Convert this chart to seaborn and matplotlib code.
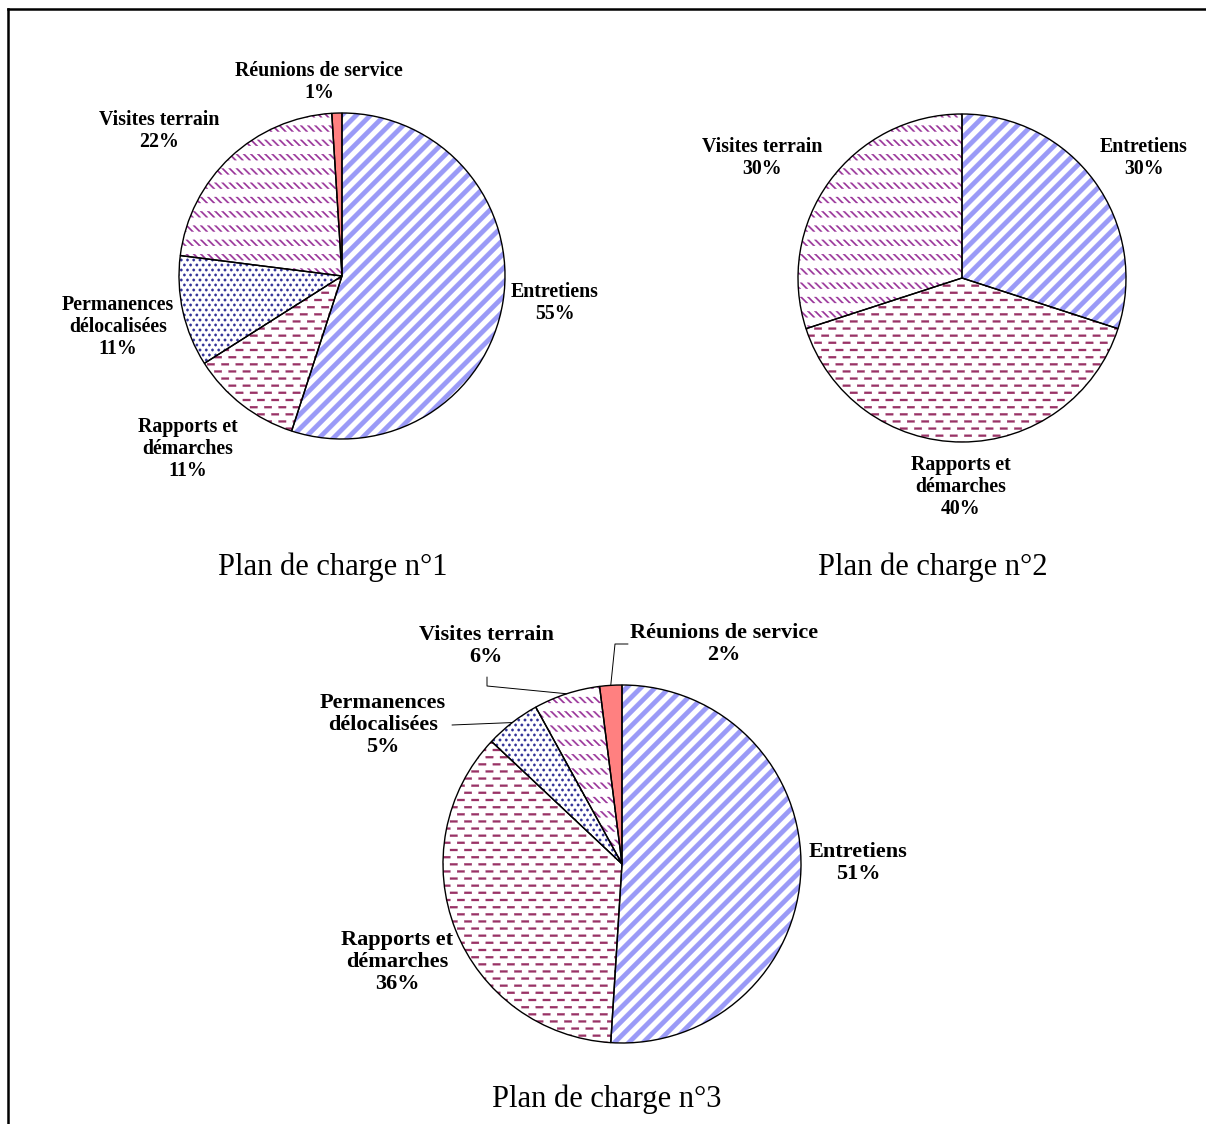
import numpy as np
import matplotlib
matplotlib.use("Agg")
import matplotlib.pyplot as plt
import matplotlib.hatch as mhatch
from matplotlib.path import Path
from matplotlib.lines import Line2D
import seaborn as sns

# ---- data -------------------------------------------------------------
categories = ["Entretiens", "Rapports et\ndémarches", "Permanences\ndélocalisées",
              "Visites terrain", "Réunions de service"]
plan1 = [55, 11, 11, 22, 1]
plan2 = [30, 40, 0, 30, 0]
plan3 = [51, 36, 5, 6, 2]
titles = ["Plan de charge n°1", "Plan de charge n°2", "Plan de charge n°3"]

# ---- styles -----------------------------------------------------------
hatches = ["/", "-", ".", "\\", None]
ink = ["#9A9AF7", "#993366", "#333399", "#993399", "#FF8080"]


# ---- pattern fills (office-style textures) -----------------------------
class TilePattern(mhatch.HatchPatternBase):
    key = ""

    def __init__(self, hatch, density):
        polys = self.shapes() if (hatch and self.key in hatch) else []
        self.polys = [np.asarray(p, float) for p in polys]
        self.num_vertices = sum(len(p) + 1 for p in self.polys)

    def shapes(self):
        return []

    def set_vertices_and_codes(self, vertices, codes):
        i = 0
        for p in self.polys:
            n = len(p)
            vertices[i:i + n] = p
            vertices[i + n] = p[0]
            codes[i] = Path.MOVETO
            codes[i + 1:i + n] = Path.LINETO
            codes[i + n] = Path.CLOSEPOLY
            i += n + 1


class WideStripes(TilePattern):
    key = "/"

    def shapes(self):
        n, h = 7, 0.032
        out = []
        for k in range(-n - 1, n + 2):
            c = k / n
            out.append([(-0.2, -0.2 + c - h), (1.2, 1.2 + c - h),
                        (1.2, 1.2 + c + h), (-0.2, -0.2 + c + h)])
        return out


class DashRows(TilePattern):
    key = "-"

    def shapes(self):
        rows, cols, length, th = 14, 7, 0.075, 0.02
        out = []
        for r in range(rows + 1):
            y = r / rows
            shift = (r % 2) * 0.5 / cols
            for j in range(-1, cols + 1):
                x0 = j / cols + shift
                out.append([(x0, y - th / 2), (x0 + length, y - th / 2),
                            (x0 + length, y + th / 2), (x0, y + th / 2)])
        return out


class TickRows(TilePattern):
    key = "\\"

    def shapes(self):
        rows, cols, h, w = 7, 14, 0.06, 0.02
        out = []
        for r in range(rows + 1):
            y = r / rows
            for j in range(-1, cols + 1):
                x = j / cols
                out.append([(x, y + h / 2), (x + w, y + h / 2),
                            (x + w + h, y - h / 2), (x + h, y - h / 2)])
        return out


class Confetti(TilePattern):
    key = "."

    def shapes(self):
        rows, cols, rad = 20, 16, 0.013
        ang = np.linspace(0, 2 * np.pi, 9)[:-1]
        ring = np.c_[np.cos(ang), np.sin(ang)] * rad
        out = []
        for r in range(rows + 1):
            y = r / rows
            shift = (r % 2) * 0.5 / cols
            for j in range(-1, cols + 1):
                out.append(ring + [j / cols + shift, y])
        return out


mhatch._hatch_types = [WideStripes, DashRows, TickRows, Confetti]

# ---- theme ------------------------------------------------------------
sns.set_theme(style="white")
plt.rcParams["font.family"] = ["Liberation Serif", "DejaVu Serif"]
plt.rcParams["hatch.linewidth"] = 0.2

W, H = 1206, 1124
fig = plt.figure(figsize=(W / 100, H / 100), dpi=100)
fig.patch.set_facecolor("white")

# pie placement in pixels: centre x, centre y, radius
pies = [
    dict(values=plan1, cx=342, cy=276, r=163, title_xy=(333, 567), size=14.3,
         labels={0: (555, 303), 1: (188, 449), 2: (118, 327), 3: (159, 131), 4: (319, 82)},
         leaders={}),
    dict(values=plan2, cx=962, cy=278, r=164, title_xy=(933, 567), size=14.3,
         labels={0: (1144, 158), 1: (961, 487), 3: (762, 158)},
         leaders={}),
    dict(values=plan3, cx=622, cy=864, r=179, title_xy=(607, 1099), size=16,
         labels={0: (858, 863), 1: (397, 962), 2: (383, 725), 3: (486, 646), 4: (724, 644)},
         leaders={2: [(452, 725)], 3: [(487, 677), (487, 686)], 4: [(628, 644), (615, 644)]}),
]

for spec, title in zip(pies, titles):
    cx, cy, r = spec["cx"], spec["cy"], spec["r"]
    ax = fig.add_axes([(cx - r) / W, 1 - (cy + r) / H, 2 * r / W, 2 * r / H])
    values = spec["values"]
    idx = [i for i, v in enumerate(values) if v > 0]
    vals = [values[i] for i in idx]

    # textured fill layer
    wedges, _ = ax.pie(vals, startangle=90, counterclock=False, radius=1,
                       colors=["white" if hatches[i] else ink[i] for i in idx],
                       hatch=[hatches[i] or "" for i in idx],
                       wedgeprops=dict(linewidth=0))
    for w, i in zip(wedges, idx):
        w.set_edgecolor(ink[i])
        w.set_linewidth(0)
    # outline layer
    ax.pie(vals, startangle=90, counterclock=False, radius=1,
           colors=["none"] * len(vals),
           wedgeprops=dict(linewidth=1.0, edgecolor="black", fill=False))
    ax.set_xlim(-1.0, 1.0)
    ax.set_ylim(-1.0, 1.0)
    ax.set_aspect("equal")
    ax.axis("off")

    def to_data(px, py):
        return (px - cx) / r, (cy - py) / r

    for w, i in zip(wedges, idx):
        px, py = spec["labels"][i]
        fig.text(px / W, 1 - py / H, f"{categories[i]}\n{values[i]}%",
                 ha="center", va="center", multialignment="center",
                 fontsize=spec["size"], fontweight="bold", color="black",
                 linespacing=1.15)
        if i in spec["leaders"]:
            mid = np.deg2rad((w.theta1 + w.theta2) / 2)
            pts = [to_data(*p) for p in spec["leaders"][i]] + [(np.cos(mid), np.sin(mid))]
            xs, ys = zip(*pts)
            ax.plot(xs, ys, color="black", linewidth=0.7, clip_on=False)

    tx, ty = spec["title_xy"]
    fig.text(tx / W, 1 - ty / H, title, ha="center", va="center",
             fontsize=22, color="black")

# page frame (left and top rules)
fig.add_artist(Line2D([8 / W, 8 / W], [1 - 9 / H, 0], transform=fig.transFigure,
                      color="black", linewidth=1.8, solid_capstyle="projecting"))
fig.add_artist(Line2D([8 / W, 1], [1 - 9 / H, 1 - 9 / H], transform=fig.transFigure,
                      color="black", linewidth=1.8, solid_capstyle="projecting"))

fig.savefig("out.png", dpi=100, facecolor="white")
